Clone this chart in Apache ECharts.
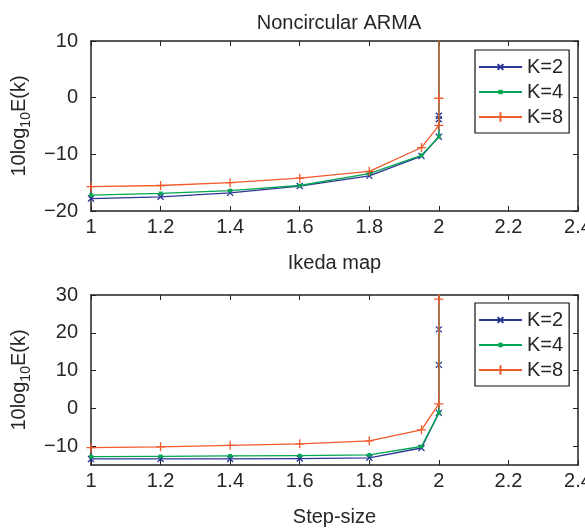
<!DOCTYPE html>
<html><head><meta charset="utf-8">
<script src="https://cdn.jsdelivr.net/npm/echarts@6/dist/echarts.min.js"></script>
<style>html,body{margin:0;padding:0;background:#fff}#c{width:585px;height:529px}</style>
</head><body><div id="c"></div>
<script>
// ---- data ----
const seriesNames = ['K=2', 'K=4', 'K=8'];
// Noncircular ARMA (top panel): [step-size, 10log10E(k)]
const armaK2 = [[1,-17.8],[1.2,-17.5],[1.4,-16.8],[1.6,-15.6],[1.8,-13.8],[1.95,-10.3],[2,-6.9],[2,-3.8],[2,-3.2],[2,60]];
const armaK4 = [[1,-17.2],[1.2,-16.9],[1.4,-16.4],[1.6,-15.5],[1.8,-13.4],[1.95,-10.2],[2,-6.9],[2,60]];
const armaK8 = [[1,-15.7],[1.2,-15.5],[1.4,-15.0],[1.6,-14.2],[1.8,-13.0],[1.95,-8.8],[2,-4.9],[2,-0.1],[2,60]];
// Ikeda map (bottom panel)
const ikedaK2 = [[1,-13.4],[1.2,-13.4],[1.4,-13.4],[1.6,-13.3],[1.8,-13.1],[1.95,-10.5],[2,-1.2],[2,11.5],[2,20.9],[2,60]];
const ikedaK4 = [[1,-12.8],[1.2,-12.7],[1.4,-12.6],[1.6,-12.5],[1.8,-12.3],[1.95,-10.1],[2,-1.2],[2,60]];
const ikedaK8 = [[1,-10.4],[1.2,-10.2],[1.4,-9.8],[1.6,-9.4],[1.8,-8.6],[1.95,-5.7],[2,1.2],[2,28.9],[2,60]];
const topYTicks = [-20, -10, 0, 10];
const bottomYTicks = [-10, 0, 10, 20, 30];

// ---- style ----
const FONT = 'Liberation Sans, Arial, Helvetica, sans-serif';
const TXT = '#262626';
const AX = '#222';
const colors = ['#2b3595', '#00a651', '#f15a2b'];
const symbols = [
  'path://M0,0M10,10M2,2L8,8M8,2L2,8',
  'path://M0,0M10,10M3.8,3.8L6.2,3.8L6.2,6.2L3.8,6.2Z',
  'path://M0,0M10,10M5,0L5,10M0,5L10,5'
];
const symSizes = [10, 10, 9];
const minus = v => String(v).replace('-', '\u2212');

const yName = {
  name: '{a|10log}{s|10}{a|E(k)}',
  nameLocation: 'middle', nameRotate: 90, nameGap: 56,
  nameTextStyle: {
    rich: {
      a: {fontSize: 20, fontFamily: FONT, color: TXT, verticalAlign: 'top', lineHeight: 20},
      s: {fontSize: 14, fontFamily: FONT, color: TXT, verticalAlign: 'top', padding: [10, 0, 0, 0], lineHeight: 14}
    }
  }
};
const lineAx = {show: true, onZero: false, lineStyle: {color: AX, width: 1.5}};
const tickIn = {show: true, inside: true, length: 5, lineStyle: {color: AX, width: 1}};
const lbl = {fontSize: 20, fontFamily: FONT, color: TXT};

function xAxes(grid, name) {
  return [
    {type: 'value', gridIndex: grid, min: 1, max: 2.4, interval: 0.2, position: 'bottom',
     axisLine: lineAx, axisTick: tickIn, splitLine: {show: false},
     axisLabel: Object.assign({margin: 6, hideOverlap: false}, lbl),
     name: name, nameLocation: 'middle', nameGap: 42,
     nameTextStyle: {fontSize: 20, fontFamily: FONT, color: TXT}},
    {type: 'value', gridIndex: grid, min: 1, max: 2.4, interval: 0.2, position: 'top',
     axisLine: lineAx, axisTick: tickIn, splitLine: {show: false}, axisLabel: {show: false}}
  ];
}
function yAxes(grid, min, max, ticks) {
  return [
    Object.assign({type: 'value', gridIndex: grid, min: min, max: max, position: 'left',
     axisLine: lineAx, axisTick: Object.assign({customValues: ticks}, tickIn), splitLine: {show: false},
     axisLabel: Object.assign({margin: 13, customValues: ticks, formatter: minus}, lbl)}, yName),
    {type: 'value', gridIndex: grid, min: min, max: max, position: 'right',
     axisLine: lineAx, axisTick: Object.assign({customValues: ticks}, tickIn), splitLine: {show: false},
     axisLabel: {show: false}}
  ];
}
function mkSeries(datas, xi, yi) {
  return datas.map((d, i) => ({
    name: seriesNames[i], type: 'line', data: d, xAxisIndex: xi, yAxisIndex: yi,
    clip: true, symbol: symbols[i], symbolSize: symSizes[i], showAllSymbol: true,
    lineStyle: {color: colors[i], width: 1.3},
    itemStyle: {color: colors[i], borderColor: colors[i], borderWidth: 1.3},
    emphasis: {disabled: true}, animation: false, z: 2 + i
  }));
}
function legend(top) {
  return {
    orient: 'vertical', left: 475, top: top, data: seriesNames,
    backgroundColor: '#fff', borderColor: '#111', borderWidth: 1.2,
    padding: [7, 6, 6, 3], itemWidth: 43, itemHeight: 12, itemGap: 5,
    textStyle: {fontSize: 20, fontFamily: FONT, color: TXT}, selectedMode: false
  };
}

const chart = echarts.init(document.getElementById('c'));
chart.setOption({
  animation: false,
  backgroundColor: '#fff',
  title: {text: 'Noncircular ARMA', left: 334, top: 8, textAlign: 'center',
    textStyle: {fontSize: 20, fontWeight: 'normal', fontFamily: FONT, color: TXT}},
  grid: [
    {left: 91, right: 7, top: 41, height: 170, outerBoundsMode: 'none', containLabel: false},
    {left: 91, right: 7, top: 295, height: 170, outerBoundsMode: 'none', containLabel: false}
  ],
  xAxis: xAxes(0, 'Ikeda map').concat(xAxes(1, 'Step-size')),
  yAxis: yAxes(0, -20, 10, topYTicks).concat(yAxes(1, -15, 30, bottomYTicks)),
  legend: [legend(50), legend(303)],
  series: mkSeries([armaK2, armaK4, armaK8], 0, 0).concat(mkSeries([ikedaK2, ikedaK4, ikedaK8], 2, 2))
});
</script></body></html>
